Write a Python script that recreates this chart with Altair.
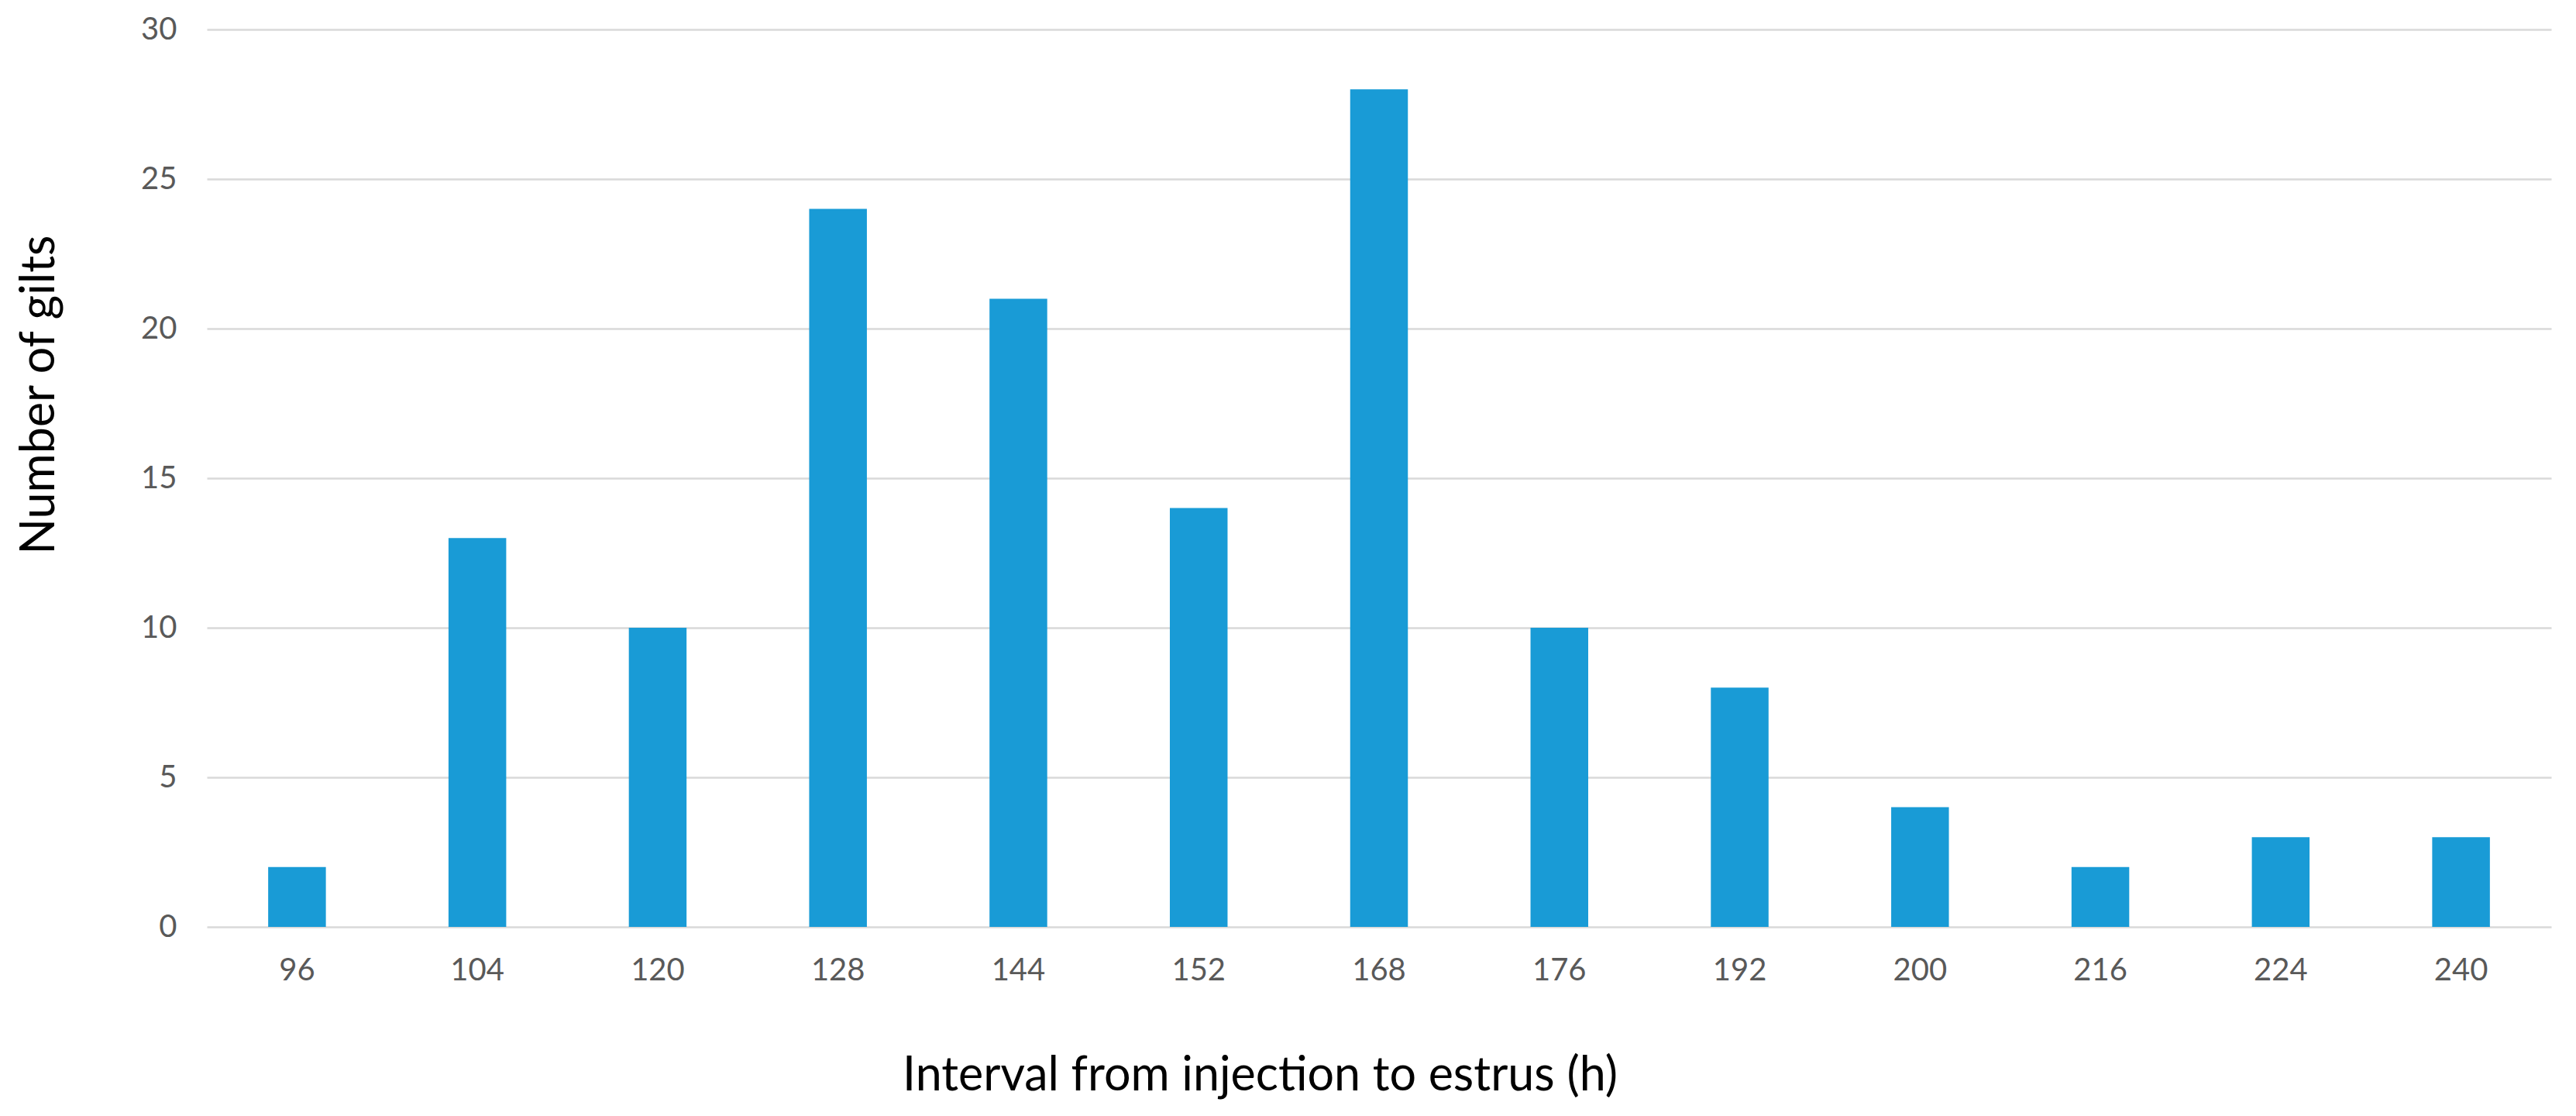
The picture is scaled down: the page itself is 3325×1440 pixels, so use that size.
import altair as alt
import pandas as pd

intervals = ["96", "104", "120", "128", "144", "152", "168", "176", "192", "200", "216", "224", "240"]
gilts = [2, 13, 10, 24, 21, 14, 28, 10, 8, 4, 2, 3, 3]
y_ticks = [0, 5, 10, 15, 20, 25, 30]

df = pd.DataFrame({"interval": intervals, "gilts": gilts})

FONT = "Lato"

chart = (
    alt.Chart(df)
    .mark_bar(color="#199BD6")
    .encode(
        x=alt.X(
            "interval:N",
            sort=intervals,
            scale=alt.Scale(paddingInner=0.68, paddingOuter=0.34),
            axis=alt.Axis(
                title="Interval from injection to estrus (h)",
                labelAngle=0,
                labelFont=FONT,
                labelFontSize=40,
                labelColor="#595959",
                labelBaseline="middle",
                labelPadding=56,
                ticks=False,
                tickSize=0,
                domain=False,
                grid=False,
                titleFont=FONT,
                titleFontSize=61,
                titleFontWeight="normal",
                titleColor="#000000",
                titleBaseline="middle",
                titleAnchor="start",
                titleAlign="center",
                titleX=1359,
                titleY=192,
            ),
        ),
        y=alt.Y(
            "gilts:Q",
            scale=alt.Scale(domain=[0, 30], nice=False),
            axis=alt.Axis(
                title="Number of gilts",
                values=y_ticks,
                labelFont=FONT,
                labelFontSize=40,
                labelColor="#595959",
                labelPadding=39,
                ticks=False,
                tickSize=0,
                domain=False,
                grid=True,
                gridColor="#D9D9D9",
                gridWidth=2.5,
                titleFont=FONT,
                titleFontSize=61,
                titleFontWeight="normal",
                titleColor="#000000",
                titleBaseline="middle",
                titleAlign="center",
                titleAngle=270,
                titleX=-216,
                titleY=471,
            ),
        ),
    )
    .properties(
        width=3026,
        height=1158,
        background="white",
        autosize=alt.AutoSizeParams(type="none"),
        padding={"left": 259, "top": 30, "right": 20, "bottom": 236},
    )
    .configure_view(strokeWidth=0, stroke="transparent")
)

chart.save("out.html", embed_options={"renderer": "svg", "actions": False})
